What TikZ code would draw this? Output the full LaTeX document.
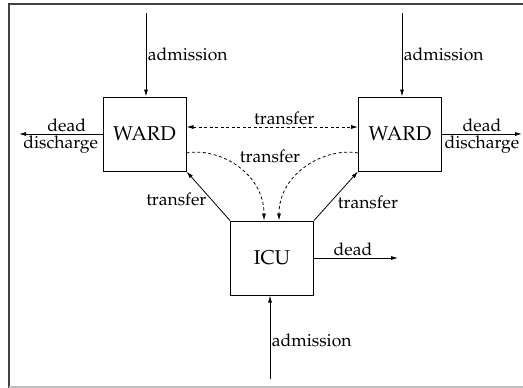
\documentclass[tikz,border=0pt]{standalone}
\usepackage[T1]{fontenc}
\usepackage{mathpazo}
\usetikzlibrary{arrows.meta,positioning}
\tikzset{
  unitbox/.style={draw,line width=1pt,minimum width=83pt,minimum height=74pt,inner sep=0pt,font=\fontsize{20}{22}\selectfont},
  flow/.style={-{Latex[length=7pt,width=4pt]},line width=0.8pt},
  dashflow/.style={flow,dash pattern=on 3pt off 2.5pt},
  lab/.style={font=\fontsize{17.5}{19}\selectfont,inner sep=1.5pt}
}
\begin{document}
\begin{tikzpicture}[x=1pt,y=-1pt]
\useasboundingbox (0,0) rectangle (523,388);
% frame
\draw[line width=1.5pt,black!75] (9,388) -- (9,4) -- (523,4);
\draw[line width=1.2pt,black!25] (9,387) -- (523,387);
% units
\node[unitbox] (wl)  at (144.5,134) {WARD};
\node[unitbox] (wr)  at (400,134)   {WARD};
\node[unitbox] (icu) at (272,258)   {ICU};
% free ends
\coordinate (inl)  at (146,13);
\coordinate (inr)  at (402,13);
\coordinate (inc)  at (270,379);
\coordinate (outl) at (19,134);
\coordinate (outr) at (522,134);
\coordinate (outc) at (398,258);
% admissions
\draw[flow] (inl) -- node[lab,right] {admission} (inl |- wl.north);
\draw[flow] (inr) -- node[lab,right] {admission} (inr |- wr.north);
\draw[flow] (inc) -- node[lab,right,yshift=-3pt] {admission} (inc |- icu.south);
% leaving
\draw[flow] (wl.west) -- node[lab,above,xshift=6pt] {dead} node[lab,below] {discharge} (outl);
\draw[flow] (wr.east) -- node[lab,above] {dead} node[lab,below] {discharge} (outr);
\draw[flow] (icu.east) -- node[lab,above,xshift=-3pt] {dead} (outc);
% transfers
\draw[dashflow,{Latex[length=7pt,width=4pt]}-{Latex[length=7pt,width=4pt]}]
  ([yshift=7pt]wl.east) -- node[lab,above,xshift=12pt] {transfer} ([yshift=7pt]wr.west);
\draw[dashflow] ([yshift=-19pt]wl.east) .. controls +(32,-6) and +(0,-48) .. ([xshift=-8pt]icu.north);
\draw[dashflow] ([yshift=-19pt]wr.west) .. controls +(-32,-6) and +(0,-48) .. ([xshift=7pt]icu.north);
\node[lab] (tmid) at (270,156) {transfer};
\draw[flow] (icu.north west) -- node[lab,left,yshift=-3pt] {transfer} (wl.south east);
\draw[flow] (icu.north east) -- node[lab,right,yshift=-6pt] {transfer} (wr.south west);
\end{tikzpicture}
\end{document}
